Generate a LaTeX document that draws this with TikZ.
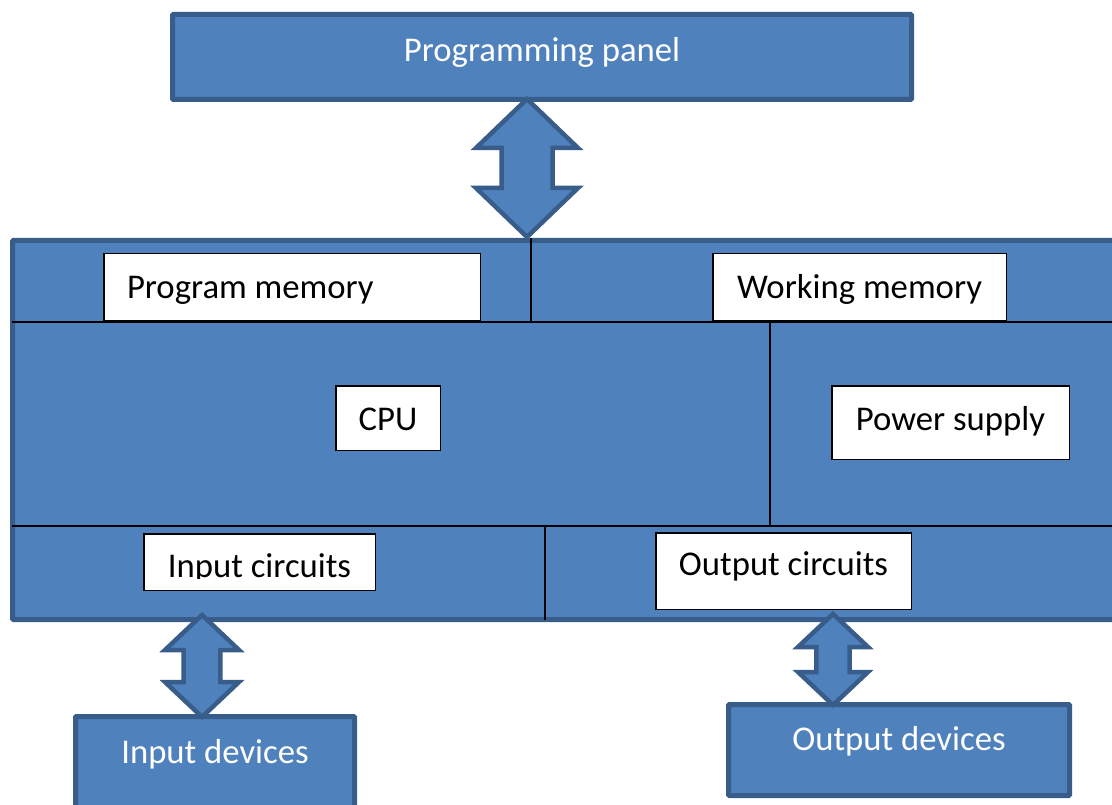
\documentclass[tikz,border=0pt]{standalone}
\usepackage{fontspec}
\setmainfont{Carlito}
\usetikzlibrary{calc}
\definecolor{boxblue}{HTML}{4F81BD}
\definecolor{boxedge}{HTML}{385D8A}
\newcommand{\lowered}[2]{\smash{\raisebox{-#1}{#2}}}
\newcommand{\twoway}[5]{\draw[bigarrow] (#1) -- ($(#1)+(#3,#5)$) -- ($(#1)+(#4,#5)$) -- ($(#2)+(#4,-#5)$) -- ($(#2)+(#3,-#5)$) -- (#2) -- ($(#2)+(-#3,-#5)$) -- ($(#2)+(-#4,-#5)$) -- ($(#1)+(-#4,#5)$) -- ($(#1)+(-#3,#5)$) -- cycle;}

\begin{document}
\begin{tikzpicture}[x=1pt,y=-1pt,
  bluebox/.style={draw=boxedge,fill=boxblue,line width=5pt,rounded corners=1pt,text=white,inner sep=0pt,font=\fontsize{34.7}{40}\selectfont},
  membox/.style={draw=black,fill=white,line width=1.5pt,text=black,inner sep=0pt,font=\fontsize{34.7}{40}\selectfont},
  divider/.style={line width=2.5pt},
  bigarrow/.style={draw=boxedge,fill=boxblue,line width=4.5pt}]

\useasboundingbox (0,0) rectangle (1112,805);
\clip (0,0) rectangle (1112,805);

\node[bluebox,minimum width=739pt,minimum height=85pt] (panel) at (542,57) {\lowered{5pt}{Programming panel}};
\node[bluebox,minimum width=1112.5pt,minimum height=379pt] (plc) at (568.75,430) {};

\draw[divider] (12,322) -- (1125,322);
\draw[divider] (531,238) -- (531,322);
\draw[divider] (12,526) -- (1125,526);
\draw[divider] (770,322) -- (770,526);
\draw[divider] (545,526) -- (545,620);

\node[membox,minimum width=376.5pt,minimum height=67.5pt] (progmem) at (292,287.5) {\lowered{10.5pt}{\makebox[330pt][l]{Program memory}}};
\node[membox,minimum width=293.5pt,minimum height=67.5pt] (workmem) at (859.5,287.5) {\lowered{11.5pt}{Working memory}};
\node[membox,minimum width=104.5pt,minimum height=64.5pt] (cpu) at (388,418) {\lowered{12pt}{CPU}};
\node[membox,minimum width=237.5pt,minimum height=73.5pt] (power) at (950.5,422.5) {\lowered{8pt}{Power supply}};
\node[membox,minimum width=231.5pt,minimum height=56.5pt] (incirc) at (259.5,562) {};
\begin{scope}
\clip (incirc.north west) rectangle (incirc.east |- 0,578);
\node[membox,draw=none,fill=none,anchor=base] (incirctext) at (259.5,577) {Input circuits};
\end{scope}
\node[membox,minimum width=255.5pt,minimum height=76.5pt] (outcirc) at (783.5,571) {\lowered{4pt}{Output circuits}};

\node[bluebox,minimum width=279pt,minimum height=91pt] (indev) at (215,762) {\lowered{1pt}{Input devices}};
\node[bluebox,minimum width=341pt,minimum height=91pt] (outdev) at (899,750) {\lowered{0pt}{Output devices}};

\coordinate (progA) at ($(panel.south)+(-15,-3)$);
\coordinate (progB) at ($(panel.south |- plc.north)+(-15,-1)$);
\coordinate (inA) at ($(indev.north |- plc.south)+(-13,-7)$);
\coordinate (inB) at ($(indev.north)+(-13,3)$);
\coordinate (outA) at ($(outdev.north |- plc.south)+(-66,-8)$);
\coordinate (outB) at ($(outdev.north)+(-66,3)$);

\twoway{progA}{progB}{51}{25.5}{49}
\twoway{inA}{inB}{37}{18.3}{35}
\twoway{outA}{outB}{35}{16.7}{33}
\end{tikzpicture}
\end{document}
